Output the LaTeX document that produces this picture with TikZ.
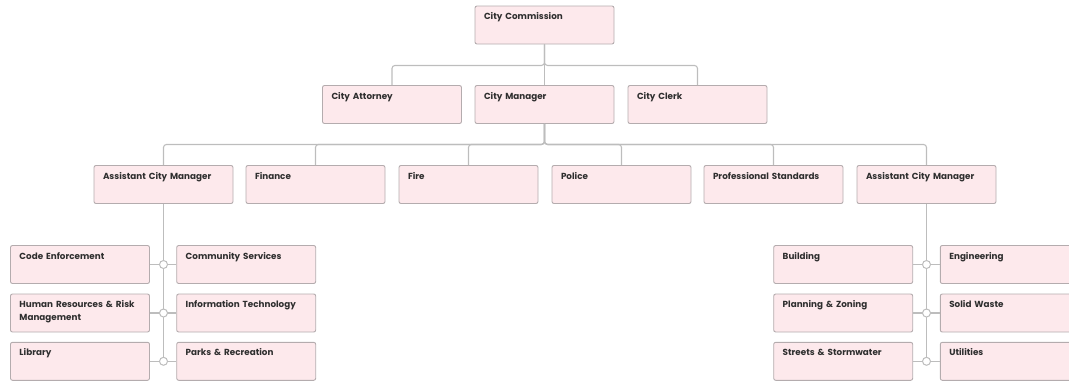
\documentclass[tikz,border=0pt]{standalone}
\usepackage{fontspec}
\setmainfont{Poppins}
\usetikzlibrary{calc}
\definecolor{boxfill}{HTML}{FDE9EC}
\definecolor{boxline}{HTML}{B4ACAE}
\definecolor{connc}{HTML}{BDBDBD}
\definecolor{txtc}{HTML}{2E2E2E}
\begin{document}
\begin{tikzpicture}[x=1pt,y=-1pt,
  box/.style={draw=boxline, fill=boxfill, line width=0.9pt, rounded corners=2pt,
    minimum width=139pt, text width=121pt, inner xsep=9pt, inner ysep=0pt, align=left,
    text height=13.5pt, text depth=24.5pt, font=\fontsize{8.8}{13}\selectfont\bfseries, text=txtc},
  conn/.style={draw=connc, line width=1.1pt, rounded corners=3pt},
  dot/.style={circle, draw=connc, fill=white, line width=1pt, minimum size=8pt, inner sep=0pt}]
\useasboundingbox (0,0) rectangle (1069,381);
\clip (0,0) rectangle (1069,381);
% level 1
\node[box] (cc) at (544.5,25) {City Commission};
% level 2
\node[box] (att) at (392,104.5) {City Attorney};
\node[box] (cm) at (544.5,104.5) {City Manager};
\node[box] (clerk) at (697.5,104.5) {City Clerk};
% level 3
\node[box] (acm1) at (163.5,184.5) {Assistant City Manager};
\node[box] (fin) at (315.5,184.5) {Finance};
\node[box] (fire) at (468.5,184.5) {Fire};
\node[box] (pol) at (621.5,184.5) {Police};
\node[box] (prof) at (773.5,184.5) {Professional Standards};
\node[box] (acm2) at (926.5,184.5) {Assistant City Manager};
% left sub
\node[box] (code) at (80,264.5) {Code Enforcement};
\node[box] (comm) at (246.2,264.5) {Community Services};
\node[box] (hr) at (80,313) {Human Resources \& Risk\\Management};
\node[box] (it) at (246.2,313) {Information Technology};
\node[box] (lib) at (80,361.3) {Library};
\node[box] (parks) at (246.2,361.3) {Parks \& Recreation};
% right sub
\node[box] (bld) at (843.2,264.5) {Building};
\node[box] (eng) at (1009.8,264.5) {Engineering};
\node[box] (plan) at (843.2,313) {Planning \& Zoning};
\node[box] (sw) at (1009.8,313) {Solid Waste};
\node[box] (str) at (843.2,361.3) {Streets \& Stormwater};
\node[box] (util) at (1009.8,361.3) {Utilities};
% junction coordinates
\coordinate (l1) at (163.5,264.5);
\coordinate (l2) at (163.5,313);
\coordinate (l3) at (163.5,361.3);
\coordinate (r1) at (926.5,264.5);
\coordinate (r2) at (926.5,313);
\coordinate (r3) at (926.5,361.3);
% connectors level 1 -> 2
\foreach \t in {att,cm,clerk}
  \draw[conn] (cc.south) -- ++(0,21) -| (\t.north);
% level 2 -> 3
\foreach \t in {acm1,fin,fire,pol,prof,acm2}
  \draw[conn] (cm.south) -- ++(0,20.5) -| (\t.north);
% sub connectors
\draw[conn] (acm1.south) -- (l3);
\draw[conn] (code.east) -- (l1) -- (comm.west);
\draw[conn] (hr.east) -- (l2) -- (it.west);
\draw[conn] (lib.east) -- (l3) -- (parks.west);
\draw[conn] (acm2.south) -- (r3);
\draw[conn] (bld.east) -- (r1) -- (eng.west);
\draw[conn] (plan.east) -- (r2) -- (sw.west);
\draw[conn] (str.east) -- (r3) -- (util.west);
\foreach \c in {l1,l2,l3,r1,r2,r3}
  \node[dot] (d\c) at (\c) {};
\end{tikzpicture}
\end{document}
